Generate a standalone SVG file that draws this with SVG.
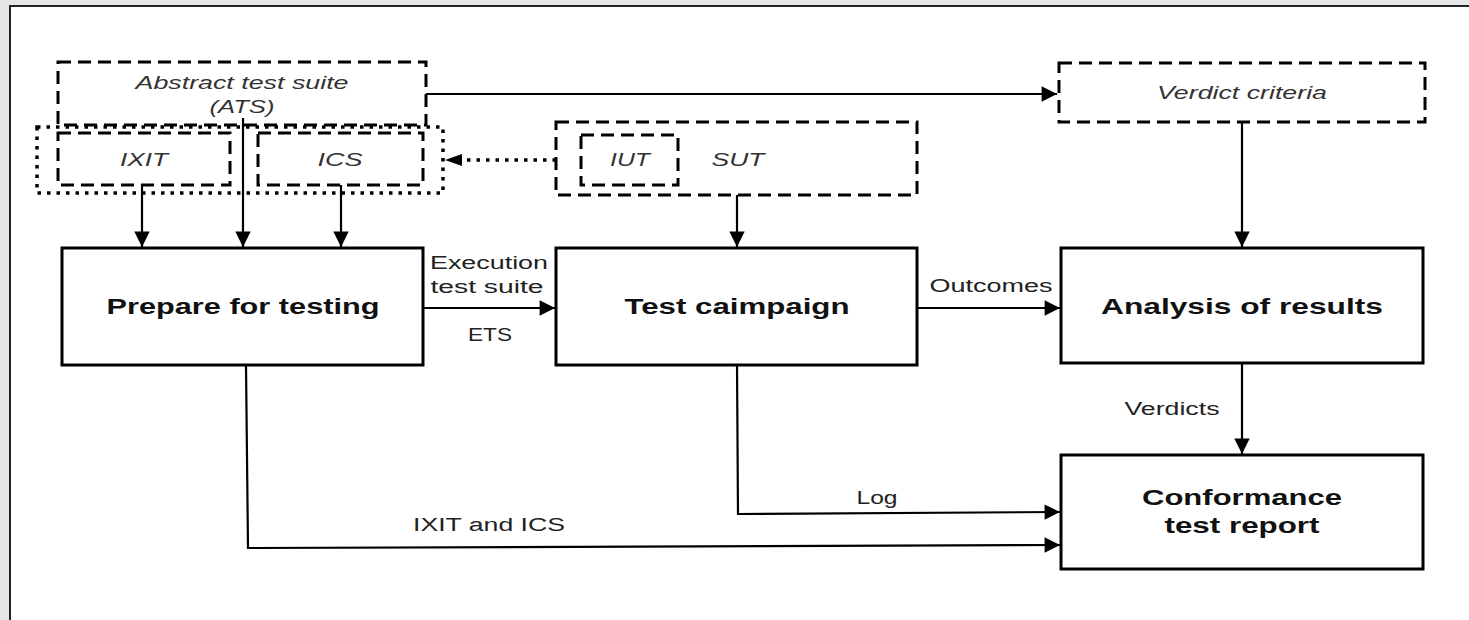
<svg xmlns="http://www.w3.org/2000/svg" width="1469" height="620" viewBox="0 0 1469 620">
<style>
.box{fill:#fff;stroke:#000;stroke-width:3}
.dash{fill:none;stroke:#000;stroke-width:3;stroke-dasharray:13 7}
.dot{fill:none;stroke:#000;stroke-width:3.5;stroke-dasharray:3.5 6}
.ln{fill:none;stroke:#000;stroke-width:2.2}
.it{font-family:"Liberation Sans",Arial,sans-serif;font-style:italic;font-size:18px;fill:#333;text-anchor:middle}
.lb{font-family:"Liberation Sans",Arial,sans-serif;font-size:18px;fill:#222;text-anchor:middle}
.bd{font-family:"Liberation Sans",Arial,sans-serif;font-weight:bold;font-size:22px;fill:#111;text-anchor:middle}
</style>
<defs>
<marker id="ah" viewBox="0 0 10 10" refX="10" refY="5" markerWidth="8" markerHeight="7" markerUnits="strokeWidth" orient="auto">
<path d="M0,0 L10,5 L0,10 z" fill="#000"/>
</marker>
<marker id="ahd" viewBox="0 0 10 10" refX="10" refY="5" markerWidth="5" markerHeight="4" markerUnits="strokeWidth" orient="auto">
<path d="M0,0 L10,5 L0,10 z" fill="#000"/>
</marker>
</defs>
<rect x="0" y="0" width="1469" height="620" fill="#e6e6e6"/>
<rect x="10" y="6" width="1459" height="614" fill="#fff"/>
<path d="M10,620 L10,6 L1469,6" fill="none" stroke="#222" stroke-width="2"/>

<g id="ats">
<rect class="dash" x="58" y="62" width="368" height="63"/>
<text class="it" x="242" y="89" textLength="213" lengthAdjust="spacingAndGlyphs">Abstract test suite</text>
<text class="it" x="242" y="113" textLength="65" lengthAdjust="spacingAndGlyphs">(ATS)</text>
</g>
<g id="ixit-ics-group">
<rect class="dot" x="37" y="127" width="406" height="66"/>
</g>
<g id="ixit">
<rect class="dash" x="58" y="133" width="172" height="52"/>
<text class="it" x="144" y="166" textLength="48" lengthAdjust="spacingAndGlyphs">IXIT</text>
</g>
<g id="ics">
<rect class="dash" x="258" y="133" width="165" height="52"/>
<text class="it" x="340" y="166" textLength="45" lengthAdjust="spacingAndGlyphs">ICS</text>
</g>
<g id="sut">
<rect class="dash" x="556" y="122" width="361" height="73"/>
<text class="it" x="738" y="166" textLength="53" lengthAdjust="spacingAndGlyphs">SUT</text>
</g>
<g id="iut">
<rect class="dash" x="581" y="135" width="97" height="50"/>
<text class="it" x="630" y="166" textLength="40" lengthAdjust="spacingAndGlyphs">IUT</text>
</g>
<g id="verdict-criteria">
<rect class="dash" x="1059" y="63" width="366" height="59"/>
<text class="it" x="1242" y="99" textLength="170" lengthAdjust="spacingAndGlyphs">Verdict criteria</text>
</g>
<g id="prepare">
<rect class="box" x="62" y="248" width="361" height="117"/>
<text class="bd" x="243" y="314" textLength="273" lengthAdjust="spacingAndGlyphs">Prepare for testing</text>
</g>
<g id="test-campaign">
<rect class="box" x="556" y="248" width="361" height="117"/>
<text class="bd" x="737" y="314" textLength="225" lengthAdjust="spacingAndGlyphs">Test caimpaign</text>
</g>
<g id="analysis">
<rect class="box" x="1061" y="248" width="362" height="115"/>
<text class="bd" x="1242" y="314" textLength="282" lengthAdjust="spacingAndGlyphs">Analysis of results</text>
</g>
<g id="report">
<rect class="box" x="1061" y="455" width="362" height="114"/>
<text class="bd" x="1242" y="505" textLength="200" lengthAdjust="spacingAndGlyphs">Conformance</text>
<text class="bd" x="1242" y="533" textLength="155" lengthAdjust="spacingAndGlyphs">test report</text>
</g>

<g id="connectors">
<path class="ln" d="M426,94 L1057,94" marker-end="url(#ah)"/>
<path class="ln" d="M142,185 L142,247" marker-end="url(#ah)"/>
<path class="ln" d="M243,118 L243,247" marker-end="url(#ah)"/>
<path class="ln" d="M341,185 L341,247" marker-end="url(#ah)"/>
<path class="dot" d="M556,160 L460,160" style="stroke-width:3.5"/>
<path d="M445,160 L462,154 L462,166 z" fill="#000"/>
<path class="ln" d="M737,195 L737,247" marker-end="url(#ah)"/>
<path class="ln" d="M1242,122 L1242,247" marker-end="url(#ah)"/>
<path class="ln" d="M423,308 L555,308" marker-end="url(#ah)"/>
<path class="ln" d="M917,308 L1060,308" marker-end="url(#ah)"/>
<path class="ln" d="M1242,363 L1242,454" marker-end="url(#ah)"/>
<path class="ln" d="M737,365 L738,514 L1060,512" marker-end="url(#ah)"/>
<path class="ln" d="M246,365 L248,548 L1060,545" marker-end="url(#ah)"/>
<text class="lb" x="489" y="269" textLength="118" lengthAdjust="spacingAndGlyphs">Execution</text>
<text class="lb" x="487" y="293" textLength="113" lengthAdjust="spacingAndGlyphs">test suite</text>
<text class="lb" x="490" y="341" textLength="44" lengthAdjust="spacingAndGlyphs">ETS</text>
<text class="lb" x="991" y="292" textLength="123" lengthAdjust="spacingAndGlyphs">Outcomes</text>
<text class="lb" x="1172" y="415" textLength="95" lengthAdjust="spacingAndGlyphs">Verdicts</text>
<text class="lb" x="877" y="504" textLength="41" lengthAdjust="spacingAndGlyphs">Log</text>
<text class="lb" x="489" y="531" textLength="152" lengthAdjust="spacingAndGlyphs">IXIT and ICS</text>
</g>
</svg>
